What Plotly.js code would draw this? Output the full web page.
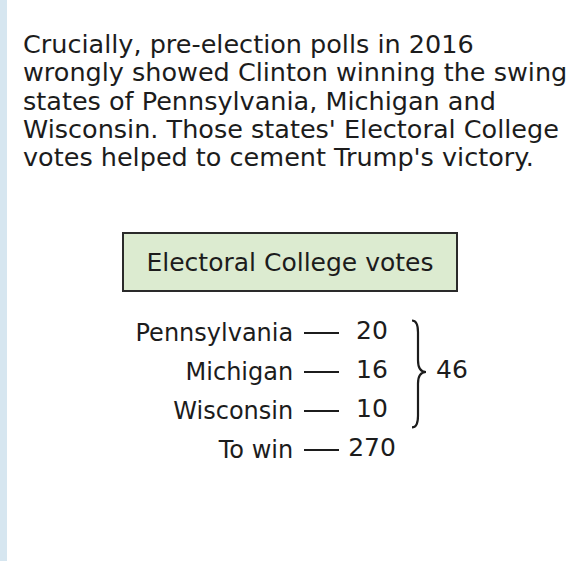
<!DOCTYPE html>
<html>
<head>
<meta charset="utf-8">
<script src="https://cdn.plot.ly/plotly-3.0.1.min.js"></script>
<style>html,body{margin:0;padding:0;background:#fff;}#chart{width:570px;height:561px;}</style>
</head>
<body>
<div id="chart"></div>
<script>
// ---- data ----
var introLines = [
  "Crucially, pre-election polls in 2016",
  "wrongly showed Clinton winning the swing",
  "states of Pennsylvania, Michigan and",
  "Wisconsin. Those states' Electoral College",
  "votes helped to cement Trump's victory."
];
var boxTitle = "Electoral College votes";
var states = ["Pennsylvania", "Michigan", "Wisconsin"];
var stateVotes = [20, 16, 10];
var winLabel = "To win";
var winVotes = 270;

// ---- derived ----
var rowLabels = states.concat([winLabel]);
var rowValues = stateVotes.concat([winVotes]);
var swingTotal = stateVotes.reduce(function (a, b) { return a + b; }, 0);

var FONT = "DejaVu Sans, sans-serif";
var INK = "#1c1c1c";
var W = 570, H = 561;

var numX = 372;       // x column of the numbers (axis units = pixels from left)
var braceX0 = 412, braceX1 = 418, braceTip = 426;
var braceTop = -0.32, braceBot = 2.42, braceMid = 1.0;

var traces = [
  {
    type: "scatter", mode: "text",
    x: rowValues.map(function () { return numX; }),
    y: rowLabels,
    text: rowValues.map(String),
    textposition: "middle center",
    textfont: { family: FONT, size: 25, color: INK },
    hoverinfo: "skip", showlegend: false, cliponaxis: false
  },
  {
    type: "scatter", mode: "text",
    x: [452], y: [states[1]],
    text: [String(swingTotal)],
    textposition: "middle center",
    textfont: { family: FONT, size: 25, color: INK },
    hoverinfo: "skip", showlegend: false, cliponaxis: false
  }
];

var bracePath = "M " + braceX0 + "," + braceTop +
  " Q " + braceX1 + "," + braceTop + " " + braceX1 + "," + (braceTop + 0.3) +
  " L " + braceX1 + "," + (braceMid - 0.3) +
  " Q " + braceX1 + "," + braceMid + " " + braceTip + "," + braceMid +
  " Q " + braceX1 + "," + braceMid + " " + braceX1 + "," + (braceMid + 0.3) +
  " L " + braceX1 + "," + (braceBot - 0.3) +
  " Q " + braceX1 + "," + braceBot + " " + braceX0 + "," + braceBot;

var introAnnotations = introLines.map(function (line, i) {
  return {
    xref: "paper", yref: "paper", x: 21 / W, y: 1 - (44 + i * 28.3) / H,
    xanchor: "left", yanchor: "middle", align: "left", showarrow: false,
    text: line,
    font: { family: FONT, size: 25.5, color: INK }
  };
});

var layout = {
  width: W, height: H,
  margin: { l: 0, r: 0, t: 0, b: 0 },
  paper_bgcolor: "#ffffff", plot_bgcolor: "rgba(0,0,0,0)",
  showlegend: false,
  xaxis: {
    domain: [340 / W, 1], range: [340, 570],
    visible: false, fixedrange: true
  },
  yaxis: {
    domain: [1 - 469.5 / H, 1 - 313.5 / H],
    type: "category", categoryorder: "array", categoryarray: rowLabels,
    range: [rowLabels.length - 0.5, -0.5],
    showgrid: false, zeroline: false, showline: false,
    ticks: "outside", ticklen: 35, tickwidth: 1.6, tickcolor: INK,
    ticklabelstandoff: 6,
    tickfont: { family: FONT, size: 24, color: INK },
    fixedrange: true
  },
  shapes: [
    { type: "rect", xref: "paper", yref: "paper", x0: 0, x1: 7 / W, y0: 0, y1: 1,
      fillcolor: "#d6e6f0", line: { width: 0 }, layer: "below" },
    { type: "path", xref: "x", yref: "y", path: bracePath,
      line: { color: INK, width: 2.2 } }
  ],
  annotations: introAnnotations.concat([
    { xref: "paper", yref: "paper", x: 290 / W, y: 1 - 262 / H,
      xanchor: "center", yanchor: "middle", showarrow: false,
      text: boxTitle, width: 332, height: 56,
      bgcolor: "#dcebd0", bordercolor: "#2a2a2a", borderwidth: 2, borderpad: 0,
      font: { family: FONT, size: 25, color: INK } }
  ])
};

Plotly.newPlot("chart", traces, layout, { staticPlot: true, displayModeBar: false });
</script>
</body>
</html>
